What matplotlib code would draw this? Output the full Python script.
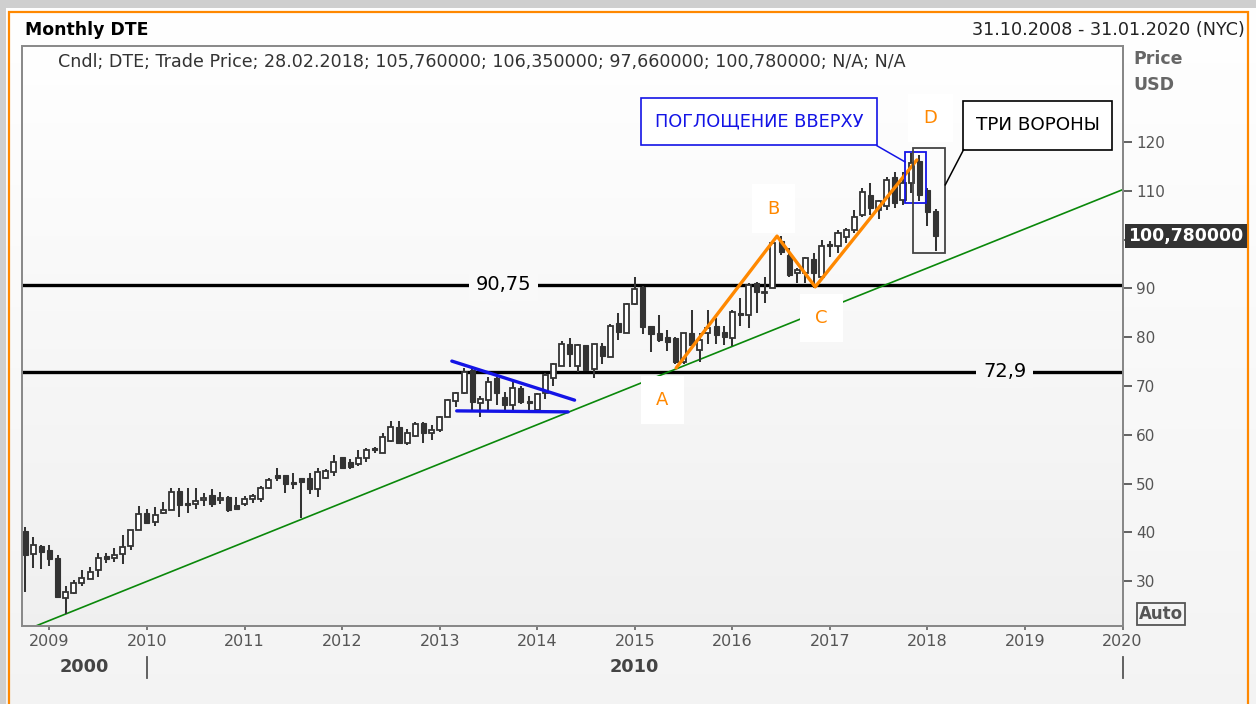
import numpy as np
import matplotlib
matplotlib.use("Agg")
import matplotlib.pyplot as plt
from matplotlib.patches import Rectangle
from matplotlib import transforms

# monthly candles, first one is Oct 2008, last one Feb 2018
opens = [40.2, 35.6, 37.2, 36.5, 34.8, 26.5, 27.5, 29.6, 30.4, 32.4, 35.2, 34.7,
         35.6, 37.2, 40.6, 43.9, 42.2, 44.0, 44.6, 48.5, 46.1, 45.8, 46.6, 47.7,
         46.6, 47.2, 45.6, 45.8, 46.8, 46.8, 49.2, 51.8, 51.8, 50.2, 51.1, 51.1,
         49.0, 51.1, 52.4, 55.4, 54.5, 54.0, 55.2, 57.2, 56.3, 58.8, 61.7, 58.3,
         59.8, 62.5, 60.3, 61.0, 63.7, 67.0, 68.5, 73.3, 66.6, 67.1, 71.6, 67.8,
         66.1, 69.5, 67.0, 65.1, 68.5, 71.6, 74.1, 78.7, 74.0, 78.4, 73.4, 78.2,
         76.0, 82.8, 80.9, 86.8, 90.2, 82.2, 80.8, 80.1, 79.8, 75.0, 80.8, 77.4,
         80.8, 82.2, 81.1, 79.8, 84.9, 84.5, 91.0, 89.0, 90.0, 99.6, 96.8, 93.1,
         93.1, 96.0, 92.4, 98.9, 98.6, 100.6, 102.0, 105.0, 109.1, 106.1, 106.8, 112.9,
         108.1, 111.5, 116.0, 110.2, 105.76]
highs = [41.2, 39.0, 37.4, 37.4, 35.4, 29.1, 30.2, 32.4, 33.0, 35.7, 35.7, 36.9,
         39.5, 40.6, 45.4, 44.9, 45.3, 46.3, 49.2, 49.2, 49.2, 49.2, 48.1, 48.8,
         48.3, 47.5, 47.2, 47.5, 47.9, 49.5, 51.1, 53.3, 51.8, 52.2, 51.1, 52.1,
         53.1, 52.9, 55.9, 55.5, 55.0, 56.9, 57.2, 57.6, 60.4, 62.9, 62.9, 61.1,
         62.7, 62.7, 62.0, 63.8, 67.3, 68.8, 73.6, 73.6, 67.9, 71.8, 71.8, 68.8,
         70.9, 69.9, 67.9, 68.6, 72.7, 74.8, 79.3, 79.8, 78.7, 78.4, 78.7, 78.9,
         82.7, 84.9, 86.9, 92.4, 90.5, 82.2, 84.5, 81.5, 80.1, 80.9, 85.6, 80.8,
         85.6, 83.9, 82.2, 85.6, 88.0, 91.0, 91.4, 92.4, 99.9, 100.7, 98.2, 94.1,
         96.5, 97.2, 99.9, 99.6, 102.0, 102.3, 106.1, 110.5, 111.5, 108.1, 112.8, 113.9,
         113.9, 117.7, 117.3, 110.5, 106.35]
lows = [27.9, 32.8, 32.6, 33.1, 26.7, 23.3, 27.4, 29.1, 30.4, 30.8, 33.7, 34.0,
        33.5, 36.5, 40.5, 41.9, 41.3, 43.8, 44.5, 43.1, 43.9, 44.9, 45.4, 45.3,
        45.9, 44.2, 44.9, 45.4, 46.1, 46.3, 48.8, 50.6, 48.1, 49.0, 42.9, 47.9,
        47.2, 50.9, 51.6, 52.9, 52.9, 53.6, 54.5, 56.2, 56.2, 58.6, 58.4, 57.9,
        59.6, 58.4, 58.9, 60.6, 63.7, 65.6, 68.4, 65.1, 63.7, 65.1, 66.1, 65.1,
        65.1, 66.4, 64.7, 64.7, 67.3, 69.9, 74.0, 73.8, 72.9, 73.3, 71.6, 74.5,
        75.9, 79.4, 80.8, 86.6, 80.7, 77.0, 79.0, 77.2, 74.6, 74.6, 78.1, 75.0,
        78.7, 78.7, 78.4, 78.1, 82.2, 81.8, 84.9, 87.0, 90.0, 96.8, 92.4, 91.0,
        91.0, 90.0, 92.4, 96.5, 97.2, 99.2, 101.3, 104.7, 105.0, 104.2, 106.1, 106.4,
        107.1, 109.5, 107.8, 102.7, 97.66]
closes = [35.4, 37.4, 35.9, 34.5, 26.7, 27.9, 29.7, 30.7, 32.0, 34.7, 34.6, 35.3,
          37.1, 40.5, 43.8, 42.0, 43.6, 44.7, 48.3, 45.6, 45.6, 46.5, 47.0, 45.8,
          47.0, 44.5, 44.9, 46.8, 47.4, 49.2, 50.7, 51.1, 49.9, 49.9, 50.4, 49.0,
          52.4, 52.6, 54.5, 53.1, 53.5, 55.2, 56.9, 56.9, 59.6, 61.7, 58.4, 60.3,
          62.3, 60.4, 61.0, 63.7, 67.1, 68.5, 72.9, 66.8, 67.3, 70.9, 68.5, 66.1,
          69.5, 66.8, 66.6, 68.4, 72.3, 74.5, 78.6, 76.6, 78.4, 73.3, 78.6, 76.1,
          82.2, 81.1, 86.8, 89.8, 82.0, 80.7, 79.4, 79.1, 75.0, 80.8, 78.4, 79.4,
          81.8, 80.4, 80.1, 85.2, 84.5, 90.7, 89.3, 89.3, 99.2, 97.5, 92.7, 93.8,
          96.2, 93.1, 98.6, 98.7, 101.4, 102.0, 104.7, 109.8, 106.4, 107.8, 112.2, 107.4,
          111.5, 115.6, 109.1, 105.7, 100.78]

first_year, first_month = 2008, 10
years = list(range(2009, 2021))
decades = ["2000", "2010"]

levels = [90.75, 72.9]
level_labels = ["90,75", "72,9"]
level_label_x = [58.9, 120.5]

trend_x = [5, 135]
trend_y = [23.3, 110.2]
tri_upper_x = [52.5, 67.6]
tri_upper_y = [75.1, 67.1]
tri_lower_x = [53.1, 66.8]
tri_lower_y = [64.9, 64.7]
abcd_x = [80.1, 92.5, 97.2, 109.7]
abcd_y = [73.7, 100.7, 90.3, 116.3]
abcd_names = ["A", "B", "C", "D"]
abcd_label_x = [78.4, 92.1, 98.0, 111.4]
abcd_label_y = [67.1, 106.3, 83.9, 124.9]

last_price = 100.78
title = "Monthly DTE"
date_range = "31.10.2008 - 31.01.2020 (NYC)"
legend = "Cndl; DTE; Trade Price; 28.02.2018; 105,760000; 106,350000; 97,660000; 100,780000; N/A; N/A"

CANDLE = "#333333"
GREY = "#555555"
ORANGE = "#ff8800"
BLUE = "#1414e6"

plt.rcParams["font.family"] = ["DejaVu Sans"]

fig = plt.figure(figsize=(12.56, 7.04), dpi=100)

# figure background
bg = fig.add_axes([0, 0, 1, 1], zorder=-5)
grad = np.linspace(1.0, 0.955, 256).reshape(-1, 1)
bg.imshow(np.dstack([grad, grad, grad]), aspect="auto", extent=[0, 1, 0, 1])
bg.set_xlim(0, 1)
bg.set_ylim(0, 1)
bg.axis("off")
bg.add_patch(Rectangle((0, 1 - 8 / 704), 1, 8 / 704, color="#cfcfcf", lw=0))
bg.add_patch(Rectangle((0, 0), 6 / 1256, 1, color="#cfcfcf", lw=0))
bg.add_patch(Rectangle((9 / 1256, -0.05), 1239 / 1256, 1.05 - 12 / 704,
                       fill=False, ec=ORANGE, lw=1.6))

ax = fig.add_axes([21.7 / 1256, 78.3 / 704, 1101.3 / 1256, 580 / 704])
ylo, yhi = 20.9, 139.7

top_c, bot_c = 1.0, 0.94
pgrad = np.linspace(top_c, bot_c, 256).reshape(-1, 1)
ax.imshow(np.dstack([pgrad, pgrad, pgrad]), aspect="auto", extent=[0, 1, 0, 1],
          transform=ax.transAxes, zorder=0)
ax.set_xlim(-0.41, 135.06)
ax.set_ylim(ylo, yhi)


def bg_at(v):
    f = (v - ylo) / (yhi - ylo)
    g = bot_c + (top_c - bot_c) * f
    return (g, g, g)


x = np.arange(len(opens))
o = np.array(opens)
c = np.array(closes)
ax.vlines(x, lows, highs, color=CANDLE, lw=1.45, zorder=3)
up = c >= o
body_lo = np.minimum(o, c)
body_h = np.maximum(np.abs(c - o), 0.35)
ax.bar(x[up], body_h[up], bottom=body_lo[up], width=0.62, color="white",
       edgecolor=CANDLE, linewidth=1.3, zorder=4)
ax.bar(x[~up], body_h[~up], bottom=body_lo[~up], width=0.62, color=CANDLE,
       edgecolor=CANDLE, linewidth=0.8, zorder=4)

# support / resistance levels
for lv, lab, lx in zip(levels, level_labels, level_label_x):
    ax.axhline(lv, color="black", lw=2.4, zorder=2)
    ax.text(lx, lv, lab, fontsize=14, ha="center", va="center", zorder=6,
            bbox=dict(boxstyle="square,pad=0.35", fc=bg_at(lv), ec="none"))

# trend line, runs across the whole panel
ax.axline((trend_x[0], trend_y[0]), (trend_x[1], trend_y[1]), color="#0a880a",
          lw=1.2, zorder=2.5)

# triangle
ax.plot(tri_upper_x, tri_upper_y, color=BLUE, lw=2.4, zorder=5, solid_capstyle="round")
ax.plot(tri_lower_x, tri_lower_y, color=BLUE, lw=2.4, zorder=5, solid_capstyle="round")

# ABCD
ax.plot(abcd_x, abcd_y, color=ORANGE, lw=2.4, zorder=5, solid_capstyle="round")
for name, lx, ly in zip(abcd_names, abcd_label_x, abcd_label_y):
    ax.text(lx, ly, name, color=ORANGE, fontsize=13, ha="center", va="center", zorder=6,
            bbox=dict(boxstyle="square,pad=0.85", fc="white", ec="none"))

# engulfing and three crows boxes
ax.add_patch(Rectangle((108.25, 107.4), 2.55, 10.6, fill=False, ec=BLUE, lw=1.3, zorder=6))
ax.add_patch(Rectangle((109.2, 97.2), 4.0, 21.5, fill=False, ec="#444444", lw=1.3, zorder=6))

ax.add_patch(Rectangle((75.77, 119.4), 29.0, 9.6, fc="white", ec=BLUE, lw=1.2, zorder=6))
ax.text(90.3, 124.2, "ПОГЛОЩЕНИЕ ВВЕРХУ", color=BLUE, fontsize=12.8,
        ha="center", va="center", zorder=7)
ax.plot([104.8, 108.25], [119.2, 115.9], color=BLUE, lw=1.1, zorder=6)

ax.add_patch(Rectangle((115.4, 118.4), 18.3, 10.0, fc="white", ec="black", lw=1.2, zorder=6))
ax.text(124.55, 123.4, "ТРИ ВОРОНЫ", color="black", fontsize=13.2,
        ha="center", va="center", zorder=7)
ax.plot([115.45, 113.2], [118.4, 111.2], color="black", lw=1.1, zorder=6)

# axes styling
for side in ["top", "left"]:
    ax.spines[side].set_visible(False)
ax.spines["right"].set_color("#888888")
ax.spines["bottom"].set_color("#888888")
ax.spines["right"].set_linewidth(1.4)
ax.spines["bottom"].set_linewidth(1.4)
ax.add_patch(Rectangle((0, 0), 1, 1, transform=ax.transAxes, fill=False,
                       ec="#888888", lw=1.4, zorder=8, clip_on=False))

ax.yaxis.tick_right()
ax.set_yticks(range(30, 130, 10))
ax.tick_params(axis="y", colors=GREY, labelsize=11, length=6.5, width=1.3, pad=3)
year_pos = [(yr - first_year) * 12 + 1 - first_month for yr in years]
ax.set_xticks(year_pos)
ax.set_xticklabels([str(yr) for yr in years])
ax.tick_params(axis="x", colors=GREY, labelsize=11.5, length=3, width=1.1, pad=3)

fig.text(58 / 1256, 1 - 62 / 704, legend, fontsize=12.6,
         color="#333333", ha="left", va="center")

# decade row
xfig = transforms.blended_transform_factory(ax.transData, fig.transFigure)
dec_centre = [(-0.41 + year_pos[1]) / 2, (year_pos[1] + year_pos[-1]) / 2]
for lab, cx in zip(decades, dec_centre):
    ax.text(cx, 1 - 667 / 704, lab, transform=xfig, fontsize=12.8, fontweight="bold",
            color="#444444", ha="center", va="center", clip_on=False)
for sx in [year_pos[1], year_pos[-1]]:
    ax.plot([sx, sx], [1 - 678 / 704, 1 - 657 / 704], transform=xfig, color=GREY,
            lw=1.3, clip_on=False)

# header
fig.text(25 / 1256, 1 - 30 / 704, title, fontsize=12.4, fontweight="bold",
         ha="left", va="center")
fig.text(1245 / 1256, 1 - 30 / 704, date_range, fontsize=12.7, ha="right", va="center",
         color="#222222")
fig.text(1133 / 1256, 1 - 59 / 704, "Price", fontsize=12.5, fontweight="bold",
         color="#666666", ha="left", va="center")
fig.text(1133 / 1256, 1 - 85 / 704, "USD", fontsize=12.5, fontweight="bold",
         color="#666666", ha="left", va="center")
fig.text(1161 / 1256, 1 - 614 / 704, "Auto", fontsize=12, fontweight="bold",
         color="#555555", ha="center", va="center",
         bbox=dict(boxstyle="square,pad=0.1", fc="none", ec="#555555", lw=1.3))

# last price tag
yfig = transforms.blended_transform_factory(fig.transFigure, ax.transData)
fig.patches.append(Rectangle((1125 / 1256, last_price - 2.45), 122 / 1256, 4.9,
                             transform=yfig, fc="#333333", ec="none", zorder=5))
fig.text(1186 / 1256, last_price, "100,780000", transform=yfig, fontsize=12.4,
         fontweight="bold", color="white", ha="center", va="center", zorder=6)

fig.savefig("out.png", dpi=100)
